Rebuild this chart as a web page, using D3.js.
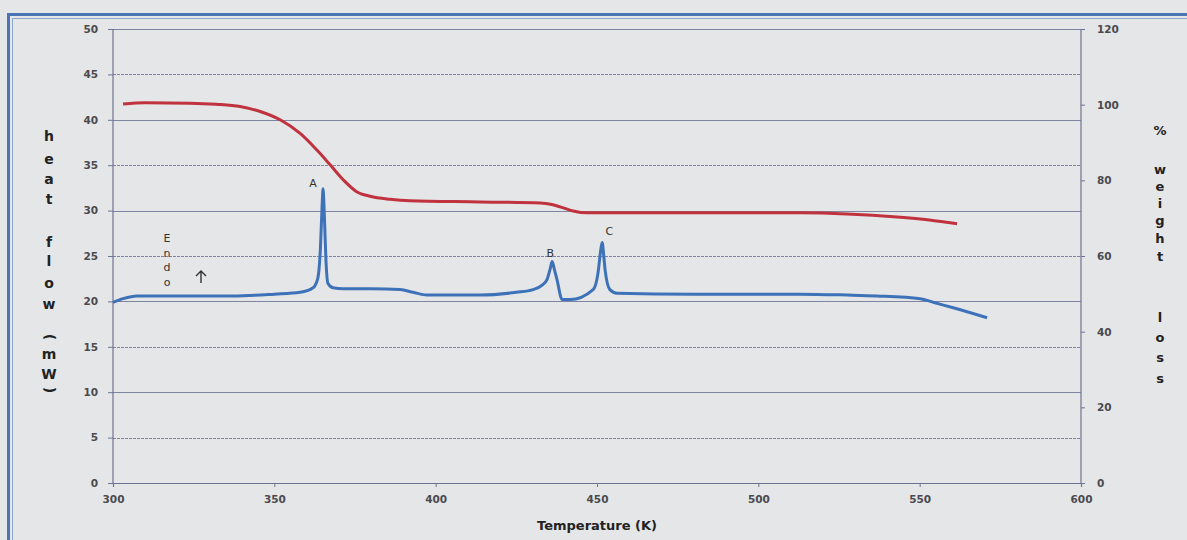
<!DOCTYPE html>
<html><head><meta charset="utf-8">
<script src="https://cdn.jsdelivr.net/npm/d3@7"></script>
<style>
html,body{margin:0;padding:0;background:#e5e6e8;}
svg{display:block;}
</style></head>
<body>
<svg id="chart" width="1187" height="540"></svg>
<script>
// ---- data ----
const xTicks = [300, 350, 400, 450, 500, 550, 600];
const leftTicks = [0, 5, 10, 15, 20, 25, 30, 35, 40, 45, 50];
const rightTicks = [0, 20, 40, 60, 80, 100, 120];

// DSC heat flow (mW)
const tempHeat = [300, 303.1, 307.4, 320, 337.2, 350, 358, 362, 363.5, 364.3, 364.8, 365.1, 365.5, 366, 366.6, 368.2, 371.3, 380, 389, 393, 397.3, 413.8, 425, 430.2, 433, 434.5, 435.5, 436.1, 436.8, 437.6, 439.2, 441.7, 448.8, 450.3, 451.1, 451.6, 452.1, 452.5, 454, 456.2, 480, 513, 527.5, 536.8, 550.2, 554.2, 560.4, 570.9];
const heatFlow = [19.9, 20.3, 20.6, 20.6, 20.6, 20.8, 21.0, 21.5, 22.6, 26.0, 30.5, 32.4, 29.5, 24.5, 22.0, 21.5, 21.4, 21.4, 21.3, 21.0, 20.7, 20.7, 21.0, 21.3, 21.8, 22.4, 23.6, 24.4, 23.5, 22.4, 20.2, 20.2, 21.3, 23.1, 25.5, 26.5, 25.0, 23.5, 21.3, 20.9, 20.8, 20.8, 20.7, 20.6, 20.3, 19.9, 19.3, 18.2];

// TGA weight (%)
const tempWeight = [303.1, 310, 323.9, 332, 339.4, 345.6, 351.8, 358, 363.2, 367.3, 371.4, 375.5, 379.7, 385.9, 392, 413.8, 432.4, 436, 438.6, 442.6, 446.9, 457, 480, 513, 527.5, 543, 553, 561.6];
const weight = [100.2, 100.5, 100.4, 100.1, 99.5, 98.2, 96.0, 92.4, 88.0, 84.1, 80.1, 77.0, 75.8, 75.0, 74.6, 74.3, 74.0, 73.6, 73.0, 71.9, 71.4, 71.4, 71.4, 71.4, 71.1, 70.3, 69.5, 68.5];

const peakLabels = ["A", "B", "C"];
const peakTemps = [362, 435.5, 453.8];
const peakVals = [32.6, 24.9, 27.3];

const leftTitle = ["h","e","a","t","","f","l","o","w","","(","m","W",")"];
const rightTitle = ["%","","w","e","i","g","h","t","","","l","o","s","s"];
const endoLetters = ["E","n","d","o"];

// ---- layout ----
const svg = d3.select("#chart");
const L = 113, R = 1081, T = 29, B = 483;
const x = d3.scaleLinear().domain([300, 600]).range([L, R]);
const yL = d3.scaleLinear().domain([0, 50]).range([B, T]);
const yR = d3.scaleLinear().domain([0, 120]).range([B, T]);

const frameCol = "#4a74b4";
// frame
svg.append("path").attr("d", `M8.5,545 V14.5 H1195`).attr("fill","none").attr("stroke",frameCol).attr("stroke-width",3);
svg.append("path").attr("d", `M12.5,545 V18.5 H1195`).attr("fill","none").attr("stroke","#8fa6cc").attr("stroke-width",1);

const gridCol = "#7f84a0";
// gridlines
svg.append("g").selectAll("line").data(leftTicks.filter(d => d > 0)).join("line")
  .attr("x1", L).attr("x2", R).attr("y1", d => Math.round(yL(d)) + 0.5).attr("y2", d => Math.round(yL(d)) + 0.5)
  .attr("stroke", gridCol).attr("stroke-width", 1)
  .attr("stroke-dasharray", (d, i) => i % 2 === 0 ? "3,1" : null);

const tickFont = "'DejaVu Sans', Verdana, sans-serif";
// left axis
const gl = svg.append("g").attr("transform", `translate(${L},0)`)
  .call(d3.axisLeft(yL).tickValues(leftTicks).tickSize(5).tickPadding(10));
// bottom axis
const gb = svg.append("g").attr("transform", `translate(0,${B})`)
  .call(d3.axisBottom(x).tickValues(xTicks).tickSize(4).tickPadding(9));
// right axis
const gr = svg.append("g").attr("transform", `translate(${R},0)`)
  .call(d3.axisRight(yR).tickValues(rightTicks).tickSize(4).tickPadding(12));
[gl, gb, gr].forEach(g => {
  g.select(".domain").attr("stroke", "#6e7390").attr("stroke-width", 1.2);
  g.selectAll(".tick line").attr("stroke", "#6e7390");
  g.selectAll(".tick text").attr("font-family", tickFont).attr("font-size", 10.5)
    .attr("font-weight", "bold").attr("fill", "#4a4a4e");
});
gl.select(".domain").attr("d", `M0,${B}V${T}`);
gr.select(".domain").attr("d", `M0,${B}V${T}`);

// lines
const lineW = d3.line().x(d => x(d[0])).y(d => yR(d[1])).curve(d3.curveMonotoneX);
const lineH = d3.line().x(d => x(d[0])).y(d => yL(d[1])).curve(d3.curveMonotoneX);
svg.append("path").datum(tempWeight.map((t, i) => [t, weight[i]]))
  .attr("d", lineW).attr("fill", "none").attr("stroke", "#c0323d").attr("stroke-width", 3).attr("stroke-linejoin","round");
svg.append("path").datum(tempHeat.map((t, i) => [t, heatFlow[i]]))
  .attr("d", lineH).attr("fill", "none").attr("stroke", "#3e72b8").attr("stroke-width", 3).attr("stroke-linejoin","round");

// peak labels
svg.append("g").selectAll("text").data(peakLabels).join("text")
  .attr("x", (d, i) => x(peakTemps[i])).attr("y", (d, i) => yL(peakVals[i]))
  .attr("text-anchor", "middle").attr("font-family", tickFont).attr("font-size", 11)
  .attr("fill", "#333").text(d => d);

// axis titles
const titleFont = "'DejaVu Sans', Verdana, sans-serif";
const ltY = [137, 160, 180, 200, 0, 243, 262, 284, 305, 0, 337, 355, 375, 390];
svg.append("g").selectAll("text").data(leftTitle).join("text")
  .attr("transform", (d, i) => `translate(49,${ltY[i]})` + ((d === "(" || d === ")") ? " rotate(90)" : ""))
  .attr("text-anchor", "middle").attr("dominant-baseline", "middle")
  .attr("font-family", titleFont).attr("font-size", 14).attr("font-weight", "bold").attr("fill", "#222")
  .text(d => d);

const rtY = [131, 0, 170, 187, 204, 221, 239, 257, 0, 0, 318, 338, 358, 379];
svg.append("g").selectAll("text").data(rightTitle).join("text")
  .attr("x", 1160).attr("y", (d, i) => rtY[i])
  .attr("text-anchor", "middle").attr("dominant-baseline", "middle")
  .attr("font-family", titleFont).attr("font-size", 13).attr("font-weight", "bold").attr("fill", "#222")
  .text(d => d);

svg.append("text").attr("x", (L + R) / 2).attr("y", 530).attr("text-anchor", "middle")
  .attr("font-family", titleFont).attr("font-size", 13).attr("font-weight", "bold").attr("fill", "#222")
  .text("Temperature (K)");

// Endo annotation
svg.append("g").selectAll("text").data(endoLetters).join("text")
  .attr("x", 167).attr("y", (d, i) => 242 + i * 14.5)
  .attr("text-anchor", "middle").attr("font-family", tickFont).attr("font-size", 11).attr("fill", "#333")
  .text(d => d);
// arrow
svg.append("path").attr("d", "M201,283 V271 M196,276 L201,271 L206,276")
  .attr("fill", "none").attr("stroke", "#333").attr("stroke-width", 1.4);
</script>
</body></html>
